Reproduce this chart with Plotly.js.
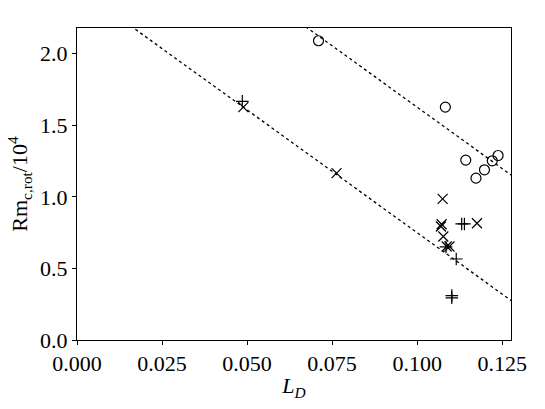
<!DOCTYPE html>
<html>
<head>
<meta charset="utf-8">
<script src="https://cdn.plot.ly/plotly-3.0.1.min.js"></script>
<style>
  html, body { margin: 0; padding: 0; background: #fff; }
  #chart { width: 545px; height: 409px; }
</style>
</head>
<body>
<div id="chart"></div>
<script>
// Datos
const circuloX = [0.0710, 0.1083, 0.1143, 0.1173, 0.1198, 0.1221, 0.1238];
const circuloY = [2.091, 1.627, 1.257, 1.131, 1.189, 1.252, 1.289];

const cruzX = [0.0489, 0.0763, 0.1075, 0.1070, 0.1072, 0.1077, 0.1087, 0.1095, 0.1176];
const cruzY = [1.627, 1.166, 0.986, 0.793, 0.809, 0.723, 0.653, 0.653, 0.816];

const masX = [0.0486, 0.1131, 0.1139, 0.1085, 0.1115, 0.1102, 0.1102];
const masY = [1.667, 0.811, 0.811, 0.650, 0.566, 0.310, 0.295];

// Rectas de ajuste (pendiente común)
const pendiente = -17.15;
const ordenadas = [2.465, 3.342];
const rectaX = [0, 0.13];

const trazos = [];

ordenadas.forEach(b => {
    trazos.push({
        x: rectaX,
        y: rectaX.map(x => b + pendiente * x),
        mode: 'lines',
        line: { color: 'black', width: 1.3, dash: '3px,3px' },
        hoverinfo: 'skip',
        showlegend: false
    });
});

const marcadores = (xs, ys, simbolo, tam) => ({
    x: xs,
    y: ys,
    mode: 'markers',
    type: 'scatter',
    marker: {
        symbol: simbolo,
        size: tam,
        color: 'black',
        line: { color: 'black', width: 1.2 }
    },
    showlegend: false
});

trazos.push(marcadores(circuloX, circuloY, 'circle-open', 10));
trazos.push(marcadores(cruzX, cruzY, 'x-thin-open', 10));
trazos.push(marcadores(masX, masY, 'cross-thin-open', 9));

const fuente = { family: 'Liberation Serif, DejaVu Serif, serif', color: 'black', size: 22 };

const layout = {
    width: 545,
    height: 409,
    margin: { l: 77, r: 34, t: 28, b: 69 },
    paper_bgcolor: 'white',
    plot_bgcolor: 'white',
    font: fuente,
    xaxis: {
        range: [0, 0.1276],
        tickvals: [0, 0.025, 0.05, 0.075, 0.1, 0.125],
        ticktext: ['0.000', '0.025', '0.050', '0.075', '0.100', '0.125'],
        showgrid: false,
        zeroline: false,
        showline: true,
        mirror: true,
        linecolor: 'black',
        linewidth: 1,
        ticks: 'outside',
        ticklen: 4,
        tickcolor: 'black',
        tickfont: fuente,
        title: { text: '<i>L</i><sub><i>D</i></sub>', font: fuente, standoff: 2 }
    },
    yaxis: {
        range: [0, 2.18],
        tickvals: [0, 0.5, 1.0, 1.5, 2.0],
        ticktext: ['0.0', '0.5', '1.0', '1.5', '2.0'],
        showgrid: false,
        zeroline: false,
        showline: true,
        mirror: true,
        linecolor: 'black',
        linewidth: 1,
        ticks: 'outside',
        ticklen: 4,
        tickcolor: 'black',
        tickfont: fuente,
        title: { text: 'Rm<sub>c,rot</sub>/10<sup>4</sup>', font: fuente, standoff: 6 }
    }
};

Plotly.newPlot('chart', trazos, layout, { staticPlot: true });
</script>
</body>
</html>
